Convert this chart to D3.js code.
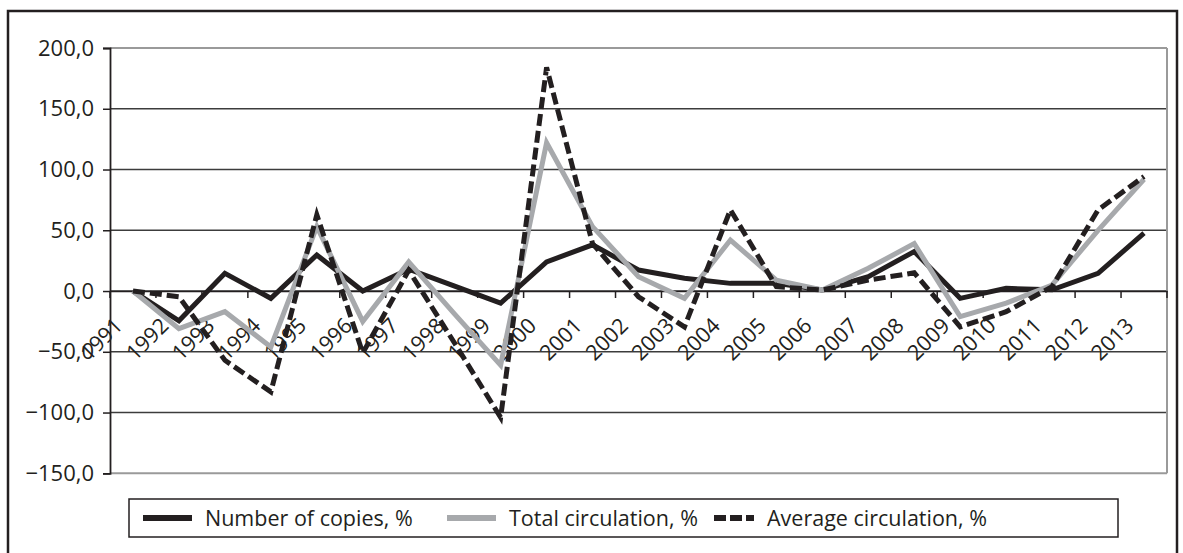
<!DOCTYPE html>
<html>
<head>
<meta charset="utf-8">
<script src="https://cdn.jsdelivr.net/npm/d3@7"></script>
<style>
  html, body { margin: 0; padding: 0; background: #fff; }
  svg { display: block; font-family: "Open Sans", "Noto Sans", sans-serif; }
</style>
</head>
<body>
<svg id="chart" width="1183" height="553"></svg>
<script>
const years = ["1991","1992","1993","1994","1995","1996","1997","1998","1999","2000","2001","2002",
  "2003","2004","2005","2006","2007","2008","2009","2010","2011","2012","2013"];
const numberOfCopies = [0, -24.5, 14.6, -6, 29.7, 0, 18, 4, -10, 24, 38, 17.3, 10.5, 6.3, 6.3, 0.8, 11.8, 32.5, -6, 2.2, 1, 14.6, 47.6];
const totalCirculation = [0, -31, -17, -46, 53, -25, 24, -19, -61, 122, 53, 11.8, -6, 42, 9, 0.8, 18.7, 39, -21, -10, 5, 50, 92];
const averageCirculation = [0, -4.7, -57, -83, 62.7, -51, 17, -43, -104, 184, 39, -4.7, -29.5, 66.8, 3.6, 0.8, 9, 15, -29.5, -17, 3.6, 66.8, 94.3];
const yTicks = [-150, -100, -50, 0, 50, 100, 150, 200];
const seriesNames = ["Number of copies, %", "Total circulation, %", "Average circulation, %"];

(function () {
const svg = d3.select("#chart");
const ink = "#231f20", grey = "#a7a9ac";

// outer frame
svg.append("rect").attr("x", 8).attr("y", 11).attr("width", 1169).attr("height", 560)
  .attr("fill", "none").attr("stroke", ink).attr("stroke-width", 2.5);

const pL = 110, pR = 1167, pT = 48, pB = 473.3;
const x = d3.scaleBand().domain(years).range([pL, pR]).paddingInner(0).paddingOuter(0);
const y = d3.scaleLinear().domain([-150, 200]).range([pB, pT]);
const cx = d => x(d) + x.bandwidth() / 2;

// gridlines
const g = svg.append("g");
g.selectAll("line.grid").data(yTicks).join("line")
  .attr("x1", pL).attr("x2", pR)
  .attr("y1", d => y(d)).attr("y2", d => y(d))
  .attr("stroke", d => (d === 200 || d === -150) ? "#9a9a9a" : "#3c3c3c")
  .attr("stroke-width", d => (d === 200 || d === -150) ? 2 : 1.5);
// right plot border
g.append("line").attr("x1", pR).attr("x2", pR).attr("y1", pT).attr("y2", pB)
  .attr("stroke", "#9a9a9a").attr("stroke-width", 2);

// y axis
const fmt = v => (v < 0 ? "\u2212" : "") + Math.abs(v).toFixed(1).replace(".", ",");
const yAxis = d3.axisLeft(y).tickValues(yTicks).tickFormat(fmt).tickSize(7).tickPadding(9);
const ya = svg.append("g").attr("transform", `translate(${pL},0)`).call(yAxis);
ya.select(".domain").attr("stroke", ink).attr("stroke-width", 1.8);
ya.selectAll(".tick line").attr("stroke", ink).attr("stroke-width", 1.5);
ya.selectAll(".tick text").attr("fill", ink).style("font-size", "22px").style("font-family", "'Open Sans', sans-serif");

// x axis at zero
const xAxis = d3.axisBottom(x).tickSize(0).tickFormat("");
const xa = svg.append("g").attr("transform", `translate(0,${y(0)})`).call(xAxis);
xa.select(".domain").attr("stroke", ink).attr("stroke-width", 1.5);
// boundary ticks
const bounds = d3.range(years.length + 1).map(i => pL + i * x.bandwidth());
xa.selectAll("line.bt").data(bounds).join("line")
  .attr("x1", d => d).attr("x2", d => d).attr("y1", 0).attr("y2", 7)
  .attr("stroke", ink).attr("stroke-width", 1.5);
// labels
svg.append("g").selectAll("text").data(years).join("text")
  .attr("transform", d => `translate(${cx(d) - 9},${y(0) + 36}) rotate(-45)`)
  .attr("text-anchor", "end").attr("fill", ink)
  .style("font-size", "21.5px").text(d => d);

// lines
const line = d3.line().x((d, i) => cx(years[i])).y(d => y(d));
const plot = svg.append("g");
plot.append("path").datum(numberOfCopies).attr("d", line)
  .attr("fill", "none").attr("stroke", ink).attr("stroke-width", 5).attr("stroke-linejoin", "miter");
plot.append("path").datum(totalCirculation).attr("d", line)
  .attr("fill", "none").attr("stroke", grey).attr("stroke-width", 5).attr("stroke-linejoin", "miter");
plot.append("path").datum(averageCirculation).attr("d", line)
  .attr("fill", "none").attr("stroke", ink).attr("stroke-width", 5).attr("stroke-dasharray", "12,5").attr("stroke-linejoin", "miter");

// legend
const lg = svg.append("g");
lg.append("rect").attr("x", 129).attr("y", 499).attr("width", 989).attr("height", 38)
  .attr("fill", "#fff").attr("stroke", ink).attr("stroke-width", 1.5);
const styles = [
  {stroke: ink, dash: null},
  {stroke: grey, dash: null},
  {stroke: ink, dash: "12,4"}
];
const itemX = [143, 447, 714];
seriesNames.forEach((name, i) => {
  const x0 = itemX[i];
  lg.append("line").attr("x1", x0).attr("x2", x0 + (i === 2 ? 40 : 49)).attr("y1", 518).attr("y2", 518)
    .attr("stroke", styles[i].stroke).attr("stroke-width", 6)
    .attr("stroke-dasharray", styles[i].dash);
  lg.append("text").attr("x", x0 + (i === 2 ? 53 : 62)).attr("y", 526).attr("fill", ink)
    .style("font-size", "21.5px").text(name);
});
})();
</script>
</body>
</html>
